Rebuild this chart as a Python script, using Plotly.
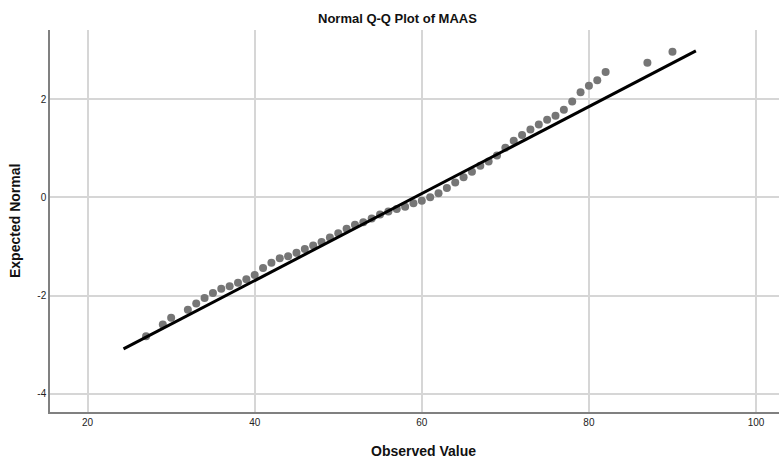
import plotly.graph_objects as go

observed = [27, 29, 30, 32, 33, 34, 35, 36, 37, 38, 39, 40, 41, 42, 43, 44, 45, 46,
            47, 48, 49, 50, 51, 52, 53, 54, 55, 56, 57, 58, 59, 60, 61, 62, 63, 64,
            65, 66, 67, 68, 69, 70, 71, 72, 73, 74, 75, 76, 77, 78, 79, 80, 81, 82,
            87, 90]
expected = [-2.83, -2.59, -2.45, -2.29, -2.16, -2.05, -1.95, -1.86, -1.81, -1.74,
            -1.67, -1.58, -1.44, -1.33, -1.24, -1.20, -1.13, -1.05, -0.98, -0.91,
            -0.82, -0.73, -0.64, -0.56, -0.51, -0.43, -0.35, -0.29, -0.24, -0.19,
            -0.12, -0.07, 0.00, 0.08, 0.19, 0.30, 0.41, 0.52, 0.64, 0.73, 0.85,
            1.01, 1.15, 1.27, 1.38, 1.48, 1.58, 1.66, 1.78, 1.95, 2.14, 2.27, 2.38,
            2.55, 2.74, 2.96]
line_x = [24.3, 92.8]
line_y = [-3.085, 2.98]

x_ticks = [20, 40, 60, 80, 100]
y_ticks = [-4, -2, 0, 2]

FONT = "Liberation Sans, Arial, sans-serif"

fig = go.Figure()
fig.add_trace(go.Scatter(x=observed, y=expected, mode="markers",
                         marker=dict(color="#767676", size=8, line=dict(width=0)),
                         showlegend=False, hoverinfo="skip"))
fig.add_trace(go.Scatter(x=line_x, y=line_y, mode="lines",
                         line=dict(color="black", width=3),
                         showlegend=False, hoverinfo="skip"))

fig.update_layout(
    width=779, height=462,
    margin=dict(l=50, r=0, t=30, b=50),
    paper_bgcolor="white", plot_bgcolor="white",
    font=dict(family=FONT, color="#222"),
)
fig.update_xaxes(range=[15.5, 102.75], tickvals=x_ticks, ticktext=[str(v) for v in x_ticks],
                 showgrid=True, gridcolor="#d6d6d6", gridwidth=1.5,
                 showline=True, linecolor="#808080", linewidth=1.5,
                 zeroline=False, ticks="", tickfont=dict(size=10, color="#222"),
                 automargin=False)
fig.update_yaxes(range=[-4.37, 3.405], tickvals=y_ticks, ticktext=[str(v) for v in y_ticks],
                 showgrid=True, gridcolor="#d6d6d6", gridwidth=1.5,
                 showline=True, linecolor="#808080", linewidth=1.5,
                 zeroline=False, ticks="", tickfont=dict(size=10, color="#222"),
                 automargin=False)

fig.add_annotation(text="<b>Normal Q-Q Plot of MAAS</b>", xref="paper", yref="paper",
                   x=(397 - 50) / 729, y=1 + (30 - 18) / 382, xanchor="center", yanchor="middle",
                   showarrow=False, font=dict(size=13, family=FONT, color="#111"))
fig.add_annotation(text="<b>Observed Value</b>", xref="paper", yref="paper",
                   x=(423 - 50) / 729, y=-(451 - 412) / 382, xanchor="center", yanchor="middle",
                   showarrow=False, font=dict(size=14, family=FONT, color="#111"))
fig.add_annotation(text="<b>Expected Normal</b>", xref="paper", yref="paper",
                   x=-(50 - 15) / 729, y=0.5, xanchor="center", yanchor="middle",
                   textangle=-90, showarrow=False, font=dict(size=14, family=FONT, color="#111"))

fig.write_html("out.html", config={"displayModeBar": False},
               post_script="document.body.style.margin='0';")
